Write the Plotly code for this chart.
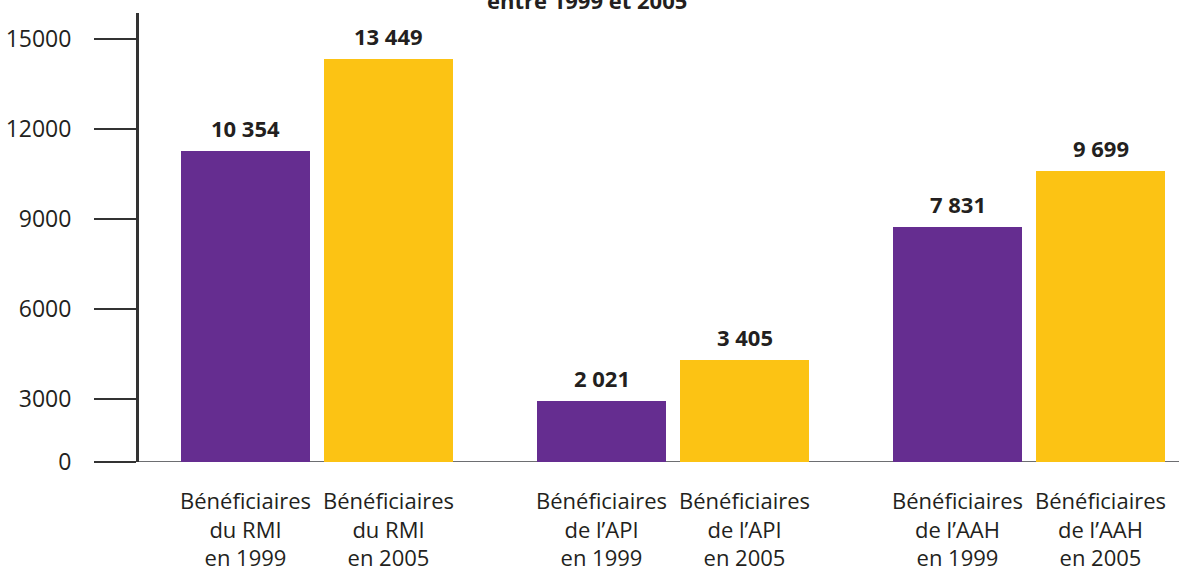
import plotly.graph_objects as go

# ---- data ----
groups = ["du RMI", "de l’API", "de l’AAH"]
years = ["1999", "2005"]
values_1999 = [10354, 2021, 7831]
values_2005 = [13449, 3405, 9699]
y_tick_labels = [0, 3000, 6000, 9000, 12000, 15000]
title_text = "entre 1999 et 2005"

# ---- styling / layout ----
PURPLE = "#652d90"
YELLOW = "#fcc314"
TEXT = "#231f20"
W, H = 1179, 571
M_L, M_R, M_T, M_B = 139, 0, 13, 109
GROUP_STEP = 356 / 143
BAR_W = 129 / 143
LABEL_SHIFT = 900  # tick labels in the original sit lower than their value
FONT = "Open Sans"

series = [(years[0], values_1999, PURPLE), (years[1], values_2005, YELLOW)]

fig = go.Figure()
tickvals, ticktext = [], []
annotations = []
for s, (yr, vals, col) in enumerate(series):
    xs = [g * GROUP_STEP + s for g in range(len(groups))]
    fig.add_trace(go.Bar(x=xs, y=vals, width=BAR_W, marker=dict(color=col, line=dict(width=0)),
                         name=yr, showlegend=False, hoverinfo="y"))
    for x, v, g in zip(xs, vals, groups):
        tickvals.append(x)
        ticktext.append(f"Bénéficiaires<br>{g}<br>en {yr}")
        annotations.append(dict(x=x, y=v, xref="x", yref="y", text=f"{v:,}".replace(",", "\u00a0"),
                                showarrow=False, yanchor="bottom", yshift=6,
                                font=dict(family=FONT, size=22, color=TEXT, weight="bold")))

annotations.append(dict(x=(587 - M_L) / (W - M_L - M_R), y=1, xref="paper", yref="paper",
                        text=f"<b>{title_text}</b>", showarrow=False, yanchor="bottom", yshift=-4,
                        font=dict(family=FONT, size=22, color=TEXT)))

ytickvals = [0] + [v - LABEL_SHIFT for v in y_tick_labels[1:]]

fig.update_layout(
    width=W, height=H,
    margin=dict(l=M_L, r=M_R, t=M_T, b=M_B, pad=0),
    plot_bgcolor="white", paper_bgcolor="white",
    font=dict(family=FONT, color=TEXT),
    bargap=0, annotations=annotations,
    xaxis=dict(range=[-106.5 / 143, (W - M_L - M_R - 106.5) / 143], tickvals=tickvals, ticktext=ticktext,
               showgrid=False, zeroline=False, showline=False, ticks="",
               tickfont=dict(family=FONT, size=22, color=TEXT), ticklabelstandoff=24),
    yaxis=dict(range=[0, (H - M_B - M_T) / 0.03], tickvals=ytickvals, ticktext=[str(v) for v in y_tick_labels],
               showgrid=False, zeroline=False, showline=True, linecolor="#333333", linewidth=3,
               ticks="outside", ticklen=42, tickwidth=1.5, tickcolor="#333333",
               tickfont=dict(family=FONT, size=23, color=TEXT), ticklabelstandoff=18),
    shapes=[dict(type="line", xref="paper", yref="y", x0=-40 / (W - M_L - M_R), x1=1, y0=0, y1=0,
                 line=dict(color="#6d6e71", width=2), layer="below")],
)

fig.write_html("out.html")
